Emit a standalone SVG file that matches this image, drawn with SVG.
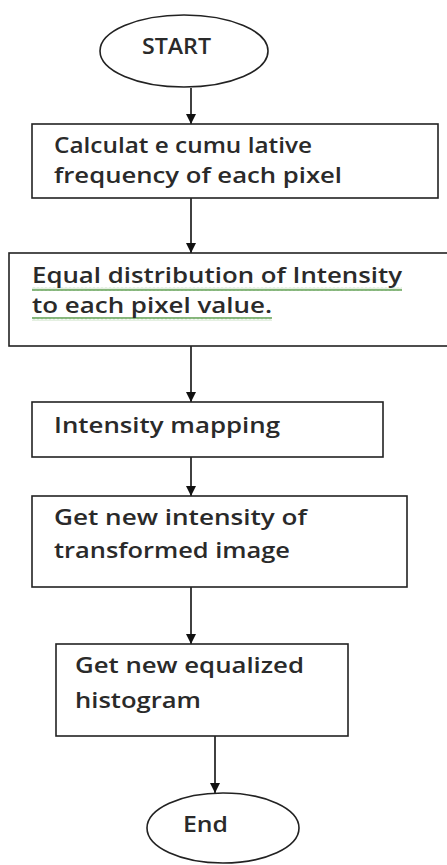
<svg xmlns="http://www.w3.org/2000/svg" width="447" height="865" viewBox="0 0 447 865">
<style>
.shape{fill:#fff;stroke:#222;stroke-width:1.6}
.t{font-family:"Open Sans","Liberation Sans",sans-serif;font-size:21px;font-weight:600;fill:#2a2a2a}
.c{stroke:#111;stroke-width:1.6;fill:none}
</style>
<defs>
<marker id="ah" markerWidth="10" markerHeight="10" refX="10" refY="5" orient="auto" markerUnits="userSpaceOnUse">
<path d="M0,0 L10,5 L0,10 z" fill="#111"/>
</marker>
<pattern id="wave" width="4" height="4" patternUnits="userSpaceOnUse">
<path d="M0,3.2 L1,0.8 L2,3.2 L3,0.8 L4,3.2" fill="none" stroke="#5f9e50" stroke-width="0.9"/>
</pattern>
</defs>
<rect width="447" height="865" fill="#fff"/>
<g id="connectors">
<line class="c" x1="191" y1="88" x2="191" y2="124" marker-end="url(#ah)"/>
<line class="c" x1="191" y1="198" x2="191" y2="253" marker-end="url(#ah)"/>
<line class="c" x1="191" y1="346" x2="191" y2="402" marker-end="url(#ah)"/>
<line class="c" x1="191" y1="457" x2="191" y2="496" marker-end="url(#ah)"/>
<line class="c" x1="191" y1="587" x2="191" y2="644" marker-end="url(#ah)"/>
<line class="c" x1="215" y1="736" x2="215" y2="793" marker-end="url(#ah)"/>
</g>
<g id="start">
<ellipse class="shape" cx="184" cy="51" rx="84" ry="36"/>
<text class="t" x="142" y="54" font-size="17" textLength="69" lengthAdjust="spacingAndGlyphs">START</text>
</g>
<g id="n1">
<rect class="shape" x="32" y="124" width="406" height="74"/>
<text class="t" x="54" y="153" textLength="258" lengthAdjust="spacingAndGlyphs">Calculat e cumu lative</text>
<text class="t" x="54" y="183" textLength="288" lengthAdjust="spacingAndGlyphs">frequency of each pixel</text>
</g>
<g id="n2">
<rect class="shape" x="9" y="253" width="440" height="93"/>
<rect x="32" y="287" width="370" height="4" fill="url(#wave)"/>
<rect x="32" y="317" width="240" height="4" fill="url(#wave)"/>
<text class="t" x="32" y="283" textLength="370" lengthAdjust="spacingAndGlyphs">Equal distribution of Intensity</text>
<text class="t" x="32" y="313" textLength="240" lengthAdjust="spacingAndGlyphs">to each pixel value.</text>
</g>
<g id="n3">
<rect class="shape" x="32" y="402" width="351" height="55"/>
<text class="t" x="54" y="433" textLength="226" lengthAdjust="spacingAndGlyphs">Intensity mapping</text>
</g>
<g id="n4">
<rect class="shape" x="32" y="496" width="375" height="91"/>
<text class="t" x="54" y="525" textLength="253" lengthAdjust="spacingAndGlyphs">Get new intensity of</text>
<text class="t" x="54" y="558" textLength="236" lengthAdjust="spacingAndGlyphs">transformed image</text>
</g>
<g id="n5">
<rect class="shape" x="56" y="644" width="292" height="92"/>
<text class="t" x="75" y="673" textLength="229" lengthAdjust="spacingAndGlyphs">Get new equalized</text>
<text class="t" x="75" y="708" textLength="126" lengthAdjust="spacingAndGlyphs">histogram</text>
</g>
<g id="end">
<ellipse class="shape" cx="223" cy="828" rx="76" ry="35"/>
<text class="t" x="183" y="832" font-size="19" textLength="45" lengthAdjust="spacingAndGlyphs">End</text>
</g>
</svg>
